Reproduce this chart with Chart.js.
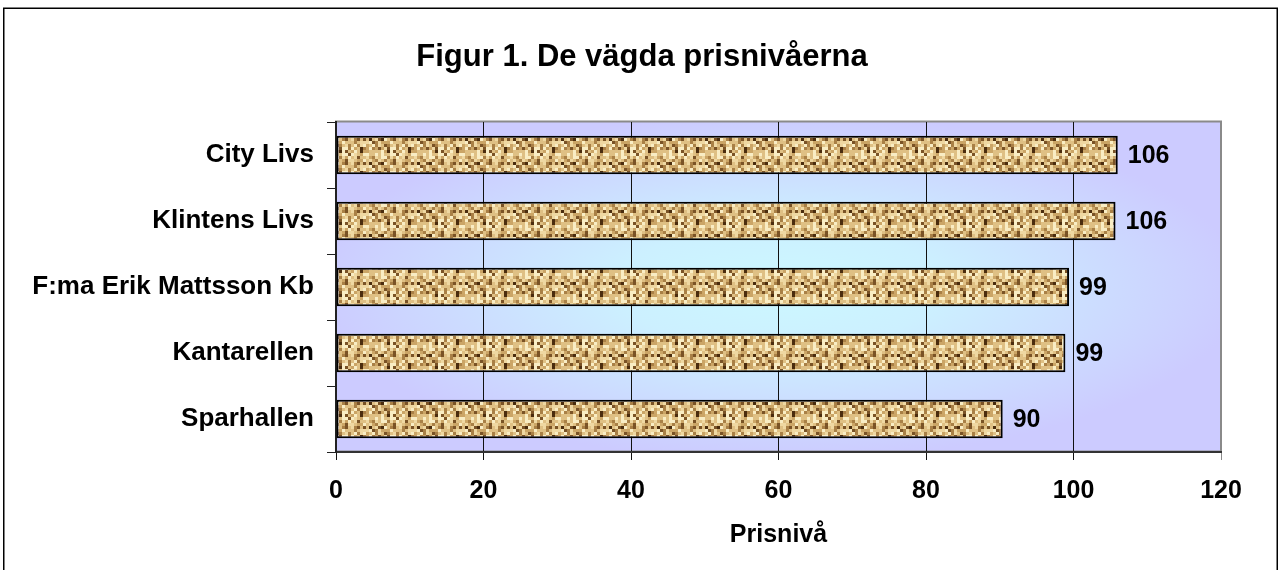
<!DOCTYPE html>
<html lang="sv">
<head>
<meta charset="UTF-8">
<title>Figur 1. De vägda prisnivåerna</title>
<script src="https://cdn.jsdelivr.net/npm/chart.js"></script>
<style>
  html, body { margin: 0; padding: 0; background: #fff; }
  #wrap { width: 1279px; height: 570px; position: relative; }
</style>
</head>
<body>
<div id="wrap"><canvas id="chart" width="1279" height="570"></canvas></div>
<script>
// chart data
const titleText = 'Figur 1. De vägda prisnivåerna';
const axisTitle = 'Prisnivå';
const stores = ['City Livs', 'Klintens Livs', 'F:ma Erik Mattsson Kb', 'Kantarellen', 'Sparhallen'];
const priceLevels = [106.0, 105.7, 99.4, 98.9, 90.4];
const xTicks = [0, 20, 40, 60, 80, 100, 120];

const FONT = "'Liberation Sans', Arial, sans-serif";

// brown woven texture for the bars (fixed hash, purely decorative)
function makeTexture() {
  const cell = 3, cols = 16, rows = 8;
  const c = document.createElement('canvas');
  c.width = cell * cols; c.height = cell * rows;
  const g = c.getContext('2d');
  const palette = ['#f9edc4', '#efd8a2', '#dfc084', '#cba566', '#a98046', '#7a5326', '#4a2c0e'];
  for (let y = 0; y < rows; y++) {
    for (let x = 0; x < cols; x++) {
      let h = (x * 374761393 + y * 668265263) ^ 0x5bd1e995;
      h = (h ^ (h >>> 13)) * 1274126177;
      h = (h ^ (h >>> 16)) >>> 0;
      const r = h % 100;
      let idx;
      if (r < 20) idx = 0;
      else if (r < 42) idx = 1;
      else if (r < 62) idx = 2;
      else if (r < 77) idx = 3;
      else if (r < 88) idx = 4;
      else if (r < 96) idx = 5;
      else idx = 6;
      // woven feel: horizontal runs on odd rows
      if (y % 2 === 1 && x % 4 !== 0) idx = Math.max(0, idx - 1);
      g.fillStyle = palette[idx];
      g.fillRect(x * cell, y * cell, cell, cell);
    }
  }
  return g.createPattern(c, 'repeat');
}

const ctx = document.getElementById('chart').getContext('2d');
const texture = makeTexture();

const frame = {
  id: 'frame',
  beforeDraw(chart) {
    const { ctx, chartArea: a } = chart;
    ctx.save();
    // plot area: lavender edges, pale turquoise centre
    const cx = (a.left + a.right) / 2, cy = (a.top + a.bottom) / 2;
    const rx = (a.right - a.left) / 2, ry = (a.bottom - a.top) / 2;
    ctx.beginPath();
    ctx.rect(a.left, a.top, a.right - a.left, a.bottom - a.top);
    ctx.clip();
    ctx.translate(cx, cy);
    ctx.scale(1, ry / rx);
    const grd = ctx.createRadialGradient(0, 0, 0, 0, 0, rx * 1.05);
    grd.addColorStop(0, '#ccf8ff');
    grd.addColorStop(0.35, '#ccf0ff');
    grd.addColorStop(1, '#cccbff');
    ctx.fillStyle = grd;
    ctx.fillRect(-rx * 1.2, -rx * 1.2, rx * 2.4, rx * 2.4);
    ctx.restore();

    ctx.save();
    ctx.strokeStyle = '#8a8a8a';
    ctx.lineWidth = 2;
    ctx.strokeRect(a.left, a.top - 0.5, a.right - a.left, a.bottom - a.top);
    ctx.restore();
  },
  afterDraw(chart) {
    const { ctx } = chart;
    ctx.save();
    // outer chart border
    ctx.strokeStyle = '#000';
    ctx.lineWidth = 1.5;
    ctx.strokeRect(3.75, 8.25, 1273.5, 700);
    // title
    ctx.fillStyle = '#000';
    ctx.font = 'bold 31px ' + FONT;
    ctx.textAlign = 'center';
    ctx.textBaseline = 'middle';
    ctx.fillText(titleText, 642, 57);
    // value labels
    ctx.font = 'bold 25px ' + FONT;
    ctx.textAlign = 'left';
    const meta = chart.getDatasetMeta(0);
    meta.data.forEach((bar, i) => {
      ctx.fillText(Math.round(priceLevels[i]).toString(), bar.x + 10, bar.y + 1);
    });
    ctx.restore();
  }
};

new Chart(ctx, {
  type: 'bar',
  data: {
    labels: stores,
    datasets: [{
      data: priceLevels,
      backgroundColor: texture,
      borderColor: '#000',
      borderWidth: 2,
      borderSkipped: false,
      categoryPercentage: 1,
      barPercentage: 0.58
    }]
  },
  options: {
    indexAxis: 'y',
    responsive: false,
    animation: false,
    layout: { padding: { top: 122, right: 58, bottom: 0, left: 0 } },
    plugins: {
      legend: { display: false },
      tooltip: { enabled: false },
      title: { display: false }
    },
    scales: {
      x: {
        min: 0,
        max: 120,
        afterBuildTicks: scale => { scale.ticks = xTicks.map(v => ({ value: v })); },
        afterFit: scale => { scale.height = 118; },
        grid: {
          color: c => (c.tick && c.tick.value === 120 ? '#8a8a8a' : '#111'),
          lineWidth: 1,
          tickLength: 8,
          drawOnChartArea: true
        },
        border: { color: '#333', width: 2 },
        ticks: {
          color: '#000',
          padding: 16,
          font: { family: FONT, size: 25, weight: 'bold' }
        },
        title: {
          display: true,
          text: axisTitle,
          color: '#000',
          padding: { top: 0, bottom: 20 },
          font: { family: FONT, size: 25, weight: 'bold' }
        }
      },
      y: {
        afterFit: scale => { scale.width = 336; },
        grid: {
          offset: true,
          drawOnChartArea: false,
          color: '#222',
          tickLength: 9
        },
        border: { color: '#222', width: 2 },
        ticks: {
          color: '#000',
          padding: 13,
          font: { family: FONT, size: 26, weight: 'bold' }
        }
      }
    }
  },
  plugins: [frame]
});
</script>
</body>
</html>
